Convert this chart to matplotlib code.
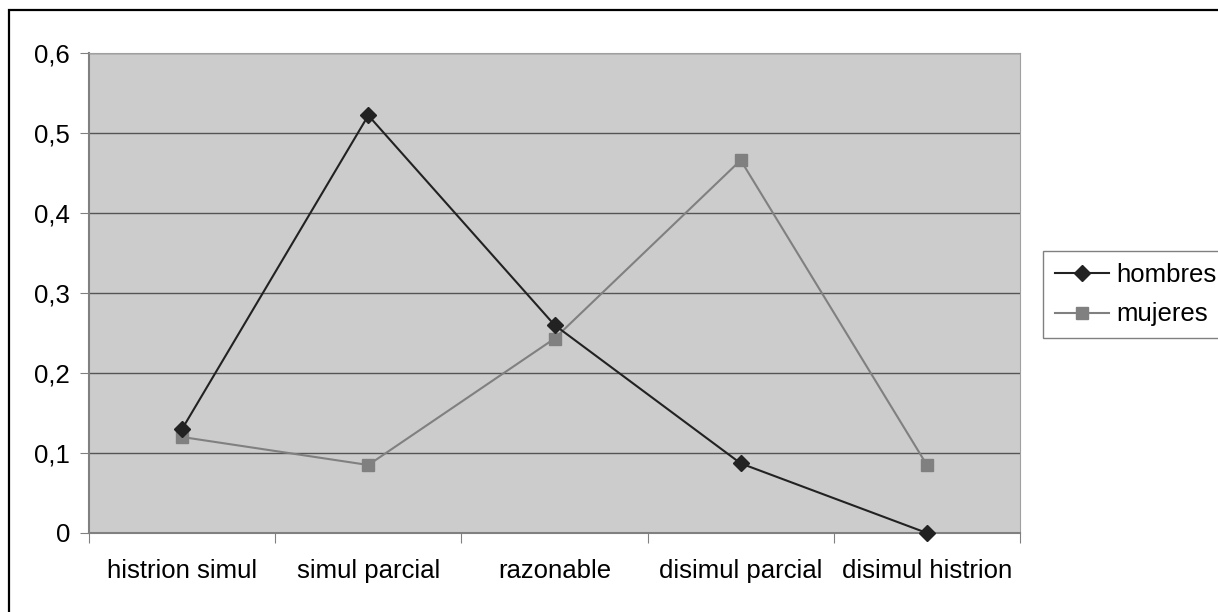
import matplotlib.pyplot as plt
from matplotlib.patches import Rectangle

categorias = ["histrion simul", "simul parcial", "razonable", "disimul parcial", "disimul histrion"]
hombres = [0.130, 0.522, 0.260, 0.087, 0.0]
mujeres = [0.120, 0.085, 0.243, 0.466, 0.085]
y_ticks = [0, 0.1, 0.2, 0.3, 0.4, 0.5, 0.6]
y_labels = ["0", "0,1", "0,2", "0,3", "0,4", "0,5", "0,6"]

plt.rcParams['font.family'] = ['Liberation Sans', 'DejaVu Sans']
fs = 18.5

fig = plt.figure(figsize=(12.18, 6.12), dpi=100)
ax = fig.add_axes([89 / 1218, 1 - 533 / 612, (1020 - 89) / 1218, (533 - 53) / 612])

# marco exterior (cortado a la derecha y abajo)
fig.patches.append(Rectangle((9 / 1218, -10 / 612), 1230 / 1218, 612 / 612, transform=fig.transFigure,
                             fill=False, edgecolor='black', linewidth=1.6, clip_on=False))

ax.set_facecolor('#cccccc')
x = list(range(len(categorias)))
ax.plot(x, hombres, color='#222222', linewidth=1.5, marker='D', markersize=8, label='hombres',
        zorder=5, clip_on=False)
ax.plot(x, mujeres, color='#808080', linewidth=1.5, marker='s', markersize=8.5, label='mujeres',
        zorder=4, clip_on=False)

ax.set_xlim(-0.5, len(categorias) - 0.5)
ax.set_ylim(0, 0.6)
ax.set_yticks(y_ticks)
ax.set_yticklabels(y_labels, fontsize=fs)
ax.grid(axis='y', color='#555555', linewidth=1)
ax.set_axisbelow(True)

ax.set_xticks([i - 0.5 for i in range(len(categorias) + 1)])
ax.set_xticklabels([])
ax.set_xticks(x, minor=True)
ax.set_xticklabels(categorias, minor=True, fontsize=fs)
ax.tick_params(axis='x', which='minor', length=0, pad=19)
ax.tick_params(axis='x', which='major', length=7, color='#808080')
ax.tick_params(axis='y', length=6.5, color='#808080', pad=7)

for s in ['top', 'right']:
    ax.spines[s].set_color('#a0a0a0')
for s in ['left', 'bottom']:
    ax.spines[s].set_color('#808080')
    ax.spines[s].set_linewidth(1.5)

leg = fig.legend(loc='upper left', bbox_to_anchor=(1043 / 1218, 1 - 251 / 612), fontsize=fs,
                 frameon=True, fancybox=False, edgecolor='#808080', framealpha=1,
                 handlelength=2.1, handletextpad=0.3, borderpad=0.45, labelspacing=0.62,
                 borderaxespad=0)
leg.get_frame().set_linewidth(1)

fig.savefig('out.png', dpi=100)
